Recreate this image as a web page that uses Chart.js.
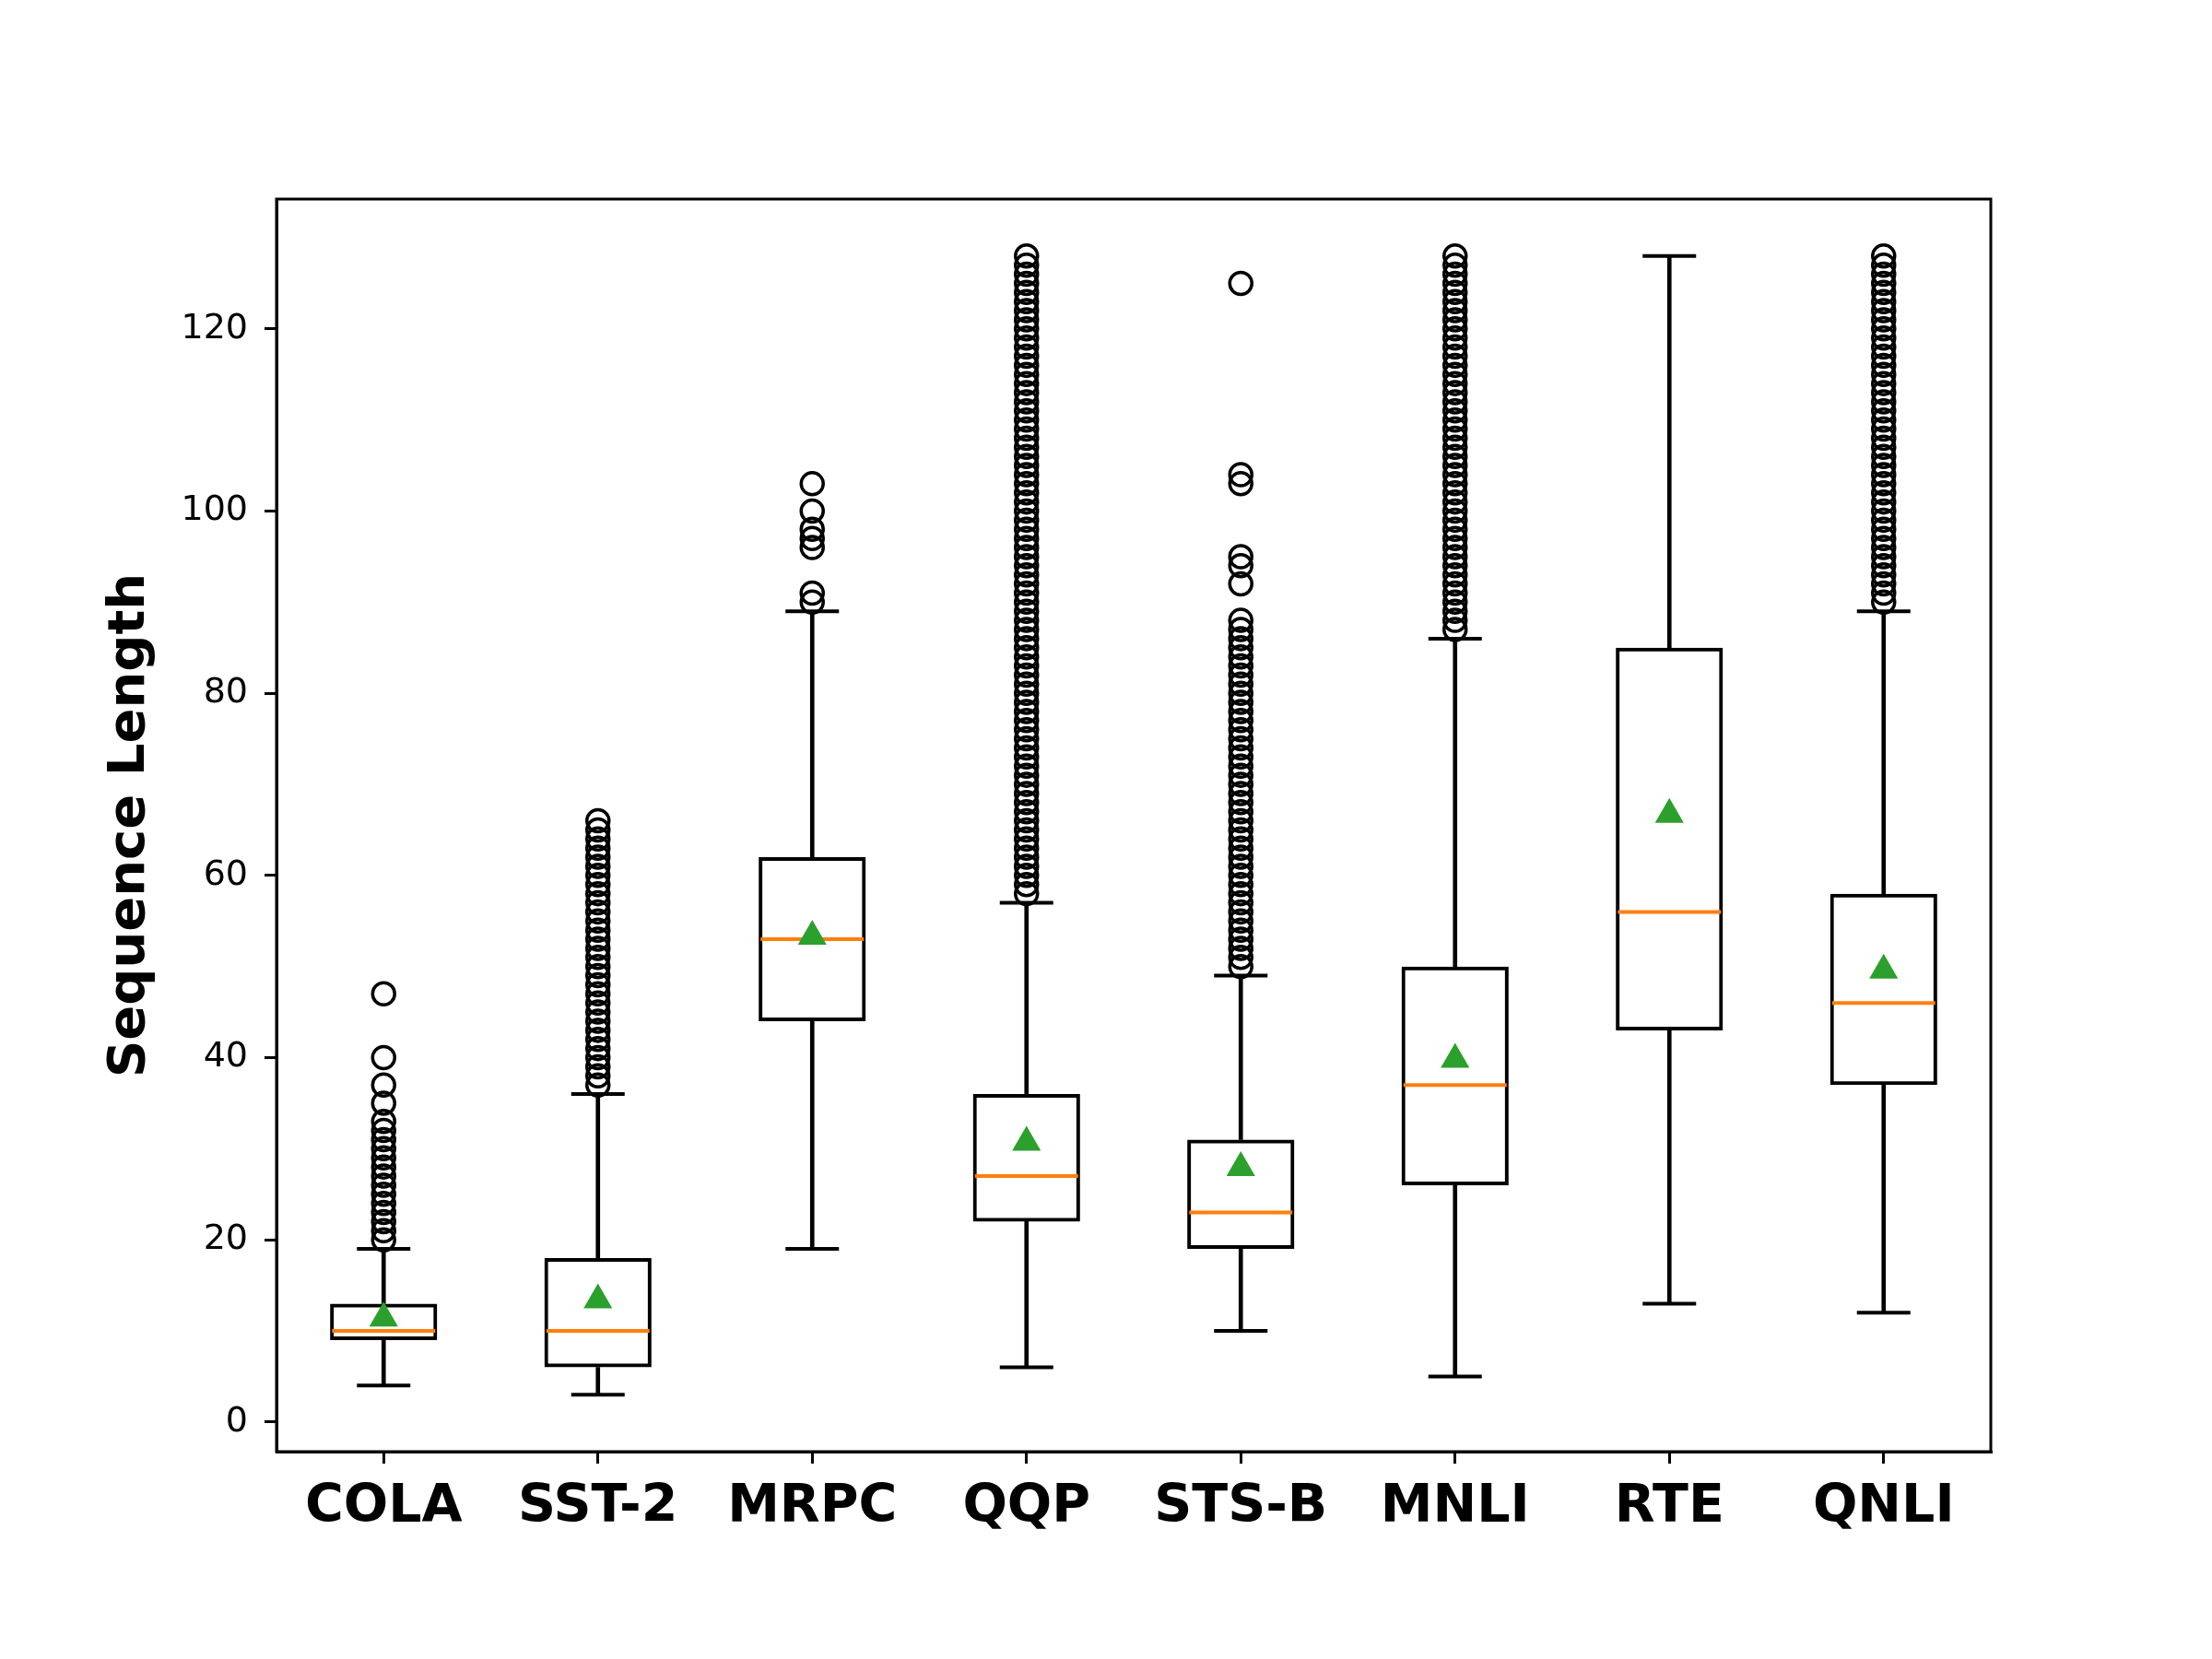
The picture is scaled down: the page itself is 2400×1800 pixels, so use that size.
<!DOCTYPE html>
<html>
<head>
<meta charset="utf-8">
<script src="https://cdn.jsdelivr.net/npm/chart.js@4/dist/chart.umd.min.js"></script>
<style>
  html, body { margin: 0; padding: 0; background: #ffffff; }
  canvas { display: block; }
</style>
</head>
<body>
<canvas id="chart" width="2400" height="1800"></canvas>
<script>
// box statistics
const categories = ["COLA", "SST-2", "MRPC", "QQP", "STS-B", "MNLI", "RTE", "QNLI"];
const whiskerLow = [4, 3, 19, 6, 10, 5, 13, 12];
const quartile1 = [9, 6, 44, 22, 19, 26, 43, 37];
const medians = [10, 10, 53, 27, 23, 37, 56, 46];
const quartile3 = [13, 18, 62, 36, 31, 50, 85, 58];
const whiskerHigh = [19, 36, 89, 57, 49, 86, 128, 89];
const means = [11.4, 13.4, 53.3, 30.7, 27.9, 39.8, 66.7, 49.6];

// fliers per dataset
const outliersCola = [20, 21, 22, 23, 24, 25, 26, 27, 28, 29, 30, 31, 32, 33, 35, 37, 40, 47];
const outliersSst2 = [37, 38, 39, 40, 41, 42, 43, 44, 45, 46, 47, 48, 49, 50, 51, 52, 53, 54, 55, 56, 57, 58, 59, 60, 61, 62, 63, 64, 65, 66];
const outliersMrpc = [90, 91, 96, 97, 98, 100, 103];
const outliersQqp = [58, 59, 60, 61, 62, 63, 64, 65, 66, 67, 68, 69, 70, 71, 72, 73, 74, 75, 76, 77, 78, 79, 80, 81, 82, 83, 84, 85, 86, 87, 88, 89, 90, 91, 92, 93, 94, 95, 96, 97, 98, 99, 100, 101, 102, 103, 104, 105, 106, 107, 108, 109, 110, 111, 112, 113, 114, 115, 116, 117, 118, 119, 120, 121, 122, 123, 124, 125, 126, 127, 128];
const outliersStsb = [50, 51, 52, 53, 54, 55, 56, 57, 58, 59, 60, 61, 62, 63, 64, 65, 66, 67, 68, 69, 70, 71, 72, 73, 74, 75, 76, 77, 78, 79, 80, 81, 82, 83, 84, 85, 86, 87, 88, 92, 94, 95, 103, 104, 125];
const outliersMnli = [87, 88, 89, 90, 91, 92, 93, 94, 95, 96, 97, 98, 99, 100, 101, 102, 103, 104, 105, 106, 107, 108, 109, 110, 111, 112, 113, 114, 115, 116, 117, 118, 119, 120, 121, 122, 123, 124, 125, 126, 127, 128];
const outliersRte = [];
const outliersQnli = [90, 91, 92, 93, 94, 95, 96, 97, 98, 99, 100, 101, 102, 103, 104, 105, 106, 107, 108, 109, 110, 111, 112, 113, 114, 115, 116, 117, 118, 119, 120, 121, 122, 123, 124, 125, 126, 127, 128];
const outliers = [outliersCola, outliersSst2, outliersMrpc, outliersQqp, outliersStsb, outliersMnli, outliersRte, outliersQnli];

const yTicks = [0, 20, 40, 60, 80, 100, 120];
const yMin = -3.25;
const yMax = 134.25;

const colors = {
  black: "#000000",
  median: "#ff7f0e",
  mean: "#2ca02c",
};

const fontFamily = "'DejaVu Sans', sans-serif";

const toPoints = (values) => values.map((v, i) => ({ x: categories[i], y: v }));

const flierPoints = [];
outliers.forEach((list, i) => {
  list.forEach((v) => flierPoints.push({ x: categories[i], y: v }));
});

// frame on all four sides like matplotlib spines
const framePlugin = {
  id: "frame",
  afterDraw(chart) {
    const { ctx, chartArea } = chart;
    ctx.save();
    ctx.strokeStyle = colors.black;
    ctx.lineWidth = 3;
    ctx.strokeRect(chartArea.left, chartArea.top, chartArea.right - chartArea.left, chartArea.bottom - chartArea.top);
    ctx.restore();
  },
};

Chart.defaults.color = colors.black;
Chart.defaults.font.family = fontFamily;

const ctx = document.getElementById("chart").getContext("2d");
new Chart(ctx, {
  type: "bar",
  data: {
    labels: categories,
    datasets: [
      {
        type: "scatter",
        label: "outliers",
        data: flierPoints,
        pointStyle: "circle",
        pointRadius: 12,
        pointBorderWidth: 3.5,
        pointBorderColor: colors.black,
        pointBackgroundColor: "rgba(0,0,0,0)",
        order: 6,
      },
      {
        label: "lower whisker",
        data: whiskerLow.map((v, i) => [v, quartile1[i]]),
        backgroundColor: colors.black,
        borderWidth: 0,
        barThickness: 4,
        grouped: false,
        order: 5,
      },
      {
        label: "upper whisker",
        data: whiskerHigh.map((v, i) => [quartile3[i], v]),
        backgroundColor: colors.black,
        borderWidth: 0,
        barThickness: 4,
        grouped: false,
        order: 5,
      },
      {
        label: "box",
        data: quartile1.map((v, i) => [v, quartile3[i]]),
        backgroundColor: "rgba(0,0,0,0)",
        borderColor: colors.black,
        borderWidth: 4,
        borderSkipped: false,
        categoryPercentage: 1,
        barPercentage: 0.5,
        grouped: false,
        order: 4,
      },
      {
        type: "scatter",
        label: "caps",
        data: toPoints(whiskerLow).concat(toPoints(whiskerHigh)),
        pointStyle: "line",
        pointRadius: 29,
        pointBorderWidth: 4,
        pointBorderColor: colors.black,
        order: 3,
      },
      {
        type: "scatter",
        label: "median",
        data: toPoints(medians),
        pointStyle: "line",
        pointRadius: 56,
        pointBorderWidth: 4,
        pointBorderColor: colors.median,
        order: 2,
      },
      {
        type: "scatter",
        label: "mean",
        data: toPoints(means),
        pointStyle: "triangle",
        pointRadius: 18,
        pointBorderWidth: 0,
        pointBackgroundColor: colors.mean,
        pointBorderColor: colors.mean,
        order: 1,
      },
    ],
  },
  options: {
    responsive: false,
    animation: false,
    devicePixelRatio: 1,
    layout: {
      padding: { top: 216, right: 240, left: 0, bottom: 0 },
    },
    plugins: {
      legend: { display: false },
      tooltip: { enabled: false },
    },
    scales: {
      x: {
        type: "category",
        offset: true,
        grid: {
          offset: false,
          drawOnChartArea: false,
          drawTicks: true,
          tickLength: 13,
          lineWidth: 3,
          color: colors.black,
        },
        border: { display: true, color: colors.black, width: 3 },
        ticks: {
          padding: 14,
          maxRotation: 0,
          font: { family: fontFamily, size: 57, weight: "bold" },
        },
        afterFit(scale) {
          scale.height = 225;
        },
      },
      y: {
        type: "linear",
        min: yMin,
        max: yMax,
        grid: {
          drawOnChartArea: false,
          drawTicks: true,
          tickLength: 13,
          lineWidth: 3,
          color: colors.black,
        },
        border: { display: true, color: colors.black, width: 3 },
        afterBuildTicks(scale) {
          scale.ticks = yTicks.map((v) => ({ value: v }));
        },
        ticks: {
          padding: 18,
          font: { family: fontFamily, size: 38 },
        },
        title: {
          display: true,
          text: "Sequence Length",
          font: { family: fontFamily, size: 56, weight: "bold" },
          padding: { top: 108, bottom: 0 },
        },
        afterFit(scale) {
          scale.width = 300;
        },
      },
    },
  },
  plugins: [framePlugin],
});
</script>
</body>
</html>
